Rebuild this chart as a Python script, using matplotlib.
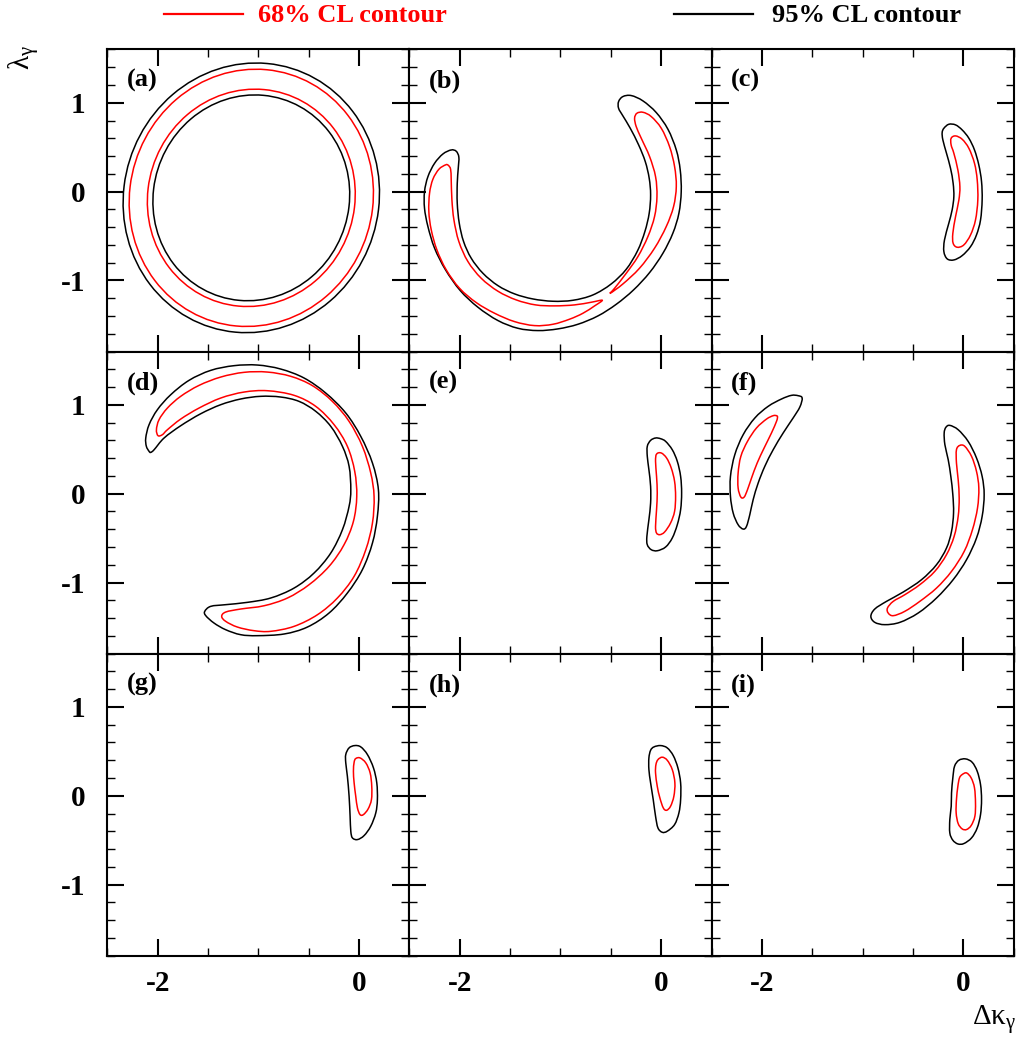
import matplotlib
matplotlib.use('Agg')
import matplotlib.pyplot as plt
import numpy as np
from matplotlib.patches import Ellipse, PathPatch
from matplotlib.path import Path
from matplotlib.lines import Line2D
from matplotlib.ticker import MultipleLocator

# ---- contour data (delta kappa_gamma, lambda_gamma) ----
# panel (a): full rings, drawn as ellipses (centre, width, height, tilt in deg)
a_center = (-1.07, -0.07)
a_tilt = -6.0
a_95_sizes = [(2.54, 3.04), (1.95, 2.32)]
a_68_sizes = [(2.42, 2.90), (2.06, 2.45)]

# panel (b)
b_95_x = [-2.085, -2.167, -2.250, -2.316, -2.350, -2.350, -2.316, -2.250, -2.141, -1.995,
          -1.820, -1.621, -1.423, -1.224, -1.025, -0.827, -0.628, -0.446, -0.274, -0.115,
          0.017, 0.116, 0.176, 0.199, 0.189, 0.150, 0.067, -0.049, -0.181, -0.297,
          -0.380, -0.423, -0.423, -0.380, -0.307, -0.224, -0.158, -0.119, -0.105, -0.119,
          -0.162, -0.234, -0.347, -0.496, -0.678, -0.877, -1.075, -1.274, -1.456, -1.621,
          -1.770, -1.886, -1.962, -2.005, -2.025, -2.025, -2.015, -2.009, -2.035]
b_95_y = [0.469, 0.424, 0.319, 0.169, 0.000, -0.187, -0.394, -0.637, -0.881, -1.114,
          -1.301, -1.451, -1.538, -1.564, -1.545, -1.493, -1.399, -1.268, -1.106, -0.911,
          -0.694, -0.468, -0.243, 0.000, 0.244, 0.469, 0.702, 0.890, 1.021, 1.081,
          1.070, 1.013, 0.938, 0.852, 0.713, 0.526, 0.338, 0.150, -0.037, -0.243,
          -0.450, -0.664, -0.874, -1.039, -1.163, -1.223, -1.234, -1.208, -1.151, -1.058,
          -0.919, -0.750, -0.562, -0.356, -0.131, 0.094, 0.263, 0.387, 0.454]
b_68a_x = [-2.141, -2.207, -2.267, -2.300, -2.307, -2.283, -2.227, -2.134, -2.002, -1.836,
           -1.654, -1.456, -1.257, -1.075, -0.910, -0.777, -0.661, -0.585, -0.694, -0.860,
           -1.059, -1.247, -1.439, -1.621, -1.787, -1.919, -2.009, -2.058, -2.078, -2.085,
           -2.091, -2.115]
b_68a_y = [0.301, 0.252, 0.139, -0.018, -0.225, -0.431, -0.656, -0.881, -1.088, -1.249,
           -1.369, -1.463, -1.508, -1.493, -1.436, -1.369, -1.286, -1.223, -1.245, -1.275,
           -1.286, -1.275, -1.219, -1.121, -0.975, -0.787, -0.562, -0.318, -0.093, 0.132,
           0.252, 0.297]
b_68b_x = [-0.506, -0.380, -0.215, -0.066, 0.050, 0.123, 0.150, 0.133, 0.083, 0.001,
           -0.099, -0.181, -0.241, -0.264, -0.248, -0.198, -0.115, -0.056, -0.042, -0.066,
           -0.132, -0.231, -0.347, -0.463]
b_68b_y = [-1.144, -1.039, -0.862, -0.637, -0.394, -0.168, 0.057, 0.282, 0.507, 0.713,
           0.845, 0.893, 0.882, 0.826, 0.732, 0.601, 0.394, 0.169, -0.056, -0.281,
           -0.506, -0.731, -0.919, -1.088]

# panel (c)
c_95_x = [-0.193, -0.144, -0.077, -0.011, 0.055, 0.111, 0.154, 0.181, 0.187, 0.171,
          0.131, 0.072, -0.011, -0.094, -0.160, -0.193, -0.187, -0.144, -0.111, -0.094,
          -0.101, -0.127, -0.167, -0.203, -0.210]
c_95_y = [0.713, 0.758, 0.751, 0.694, 0.601, 0.469, 0.300, 0.113, -0.094, -0.319,
          -0.487, -0.619, -0.720, -0.769, -0.757, -0.675, -0.544, -0.356, -0.206, -0.056,
          0.094, 0.263, 0.432, 0.582, 0.664]
c_68_x = [-0.121, -0.077, -0.011, 0.055, 0.111, 0.138, 0.144, 0.121, 0.072, 0.005,
          -0.061, -0.101, -0.104, -0.077, -0.044, -0.034, -0.054, -0.094, -0.121]
c_68_y = [0.601, 0.627, 0.589, 0.488, 0.319, 0.132, -0.094, -0.319, -0.487, -0.600,
          -0.626, -0.581, -0.469, -0.281, -0.094, 0.057, 0.244, 0.432, 0.526]

# panel (d)
d_95_x = [-2.085, -2.112, -2.118, -2.085, -2.002, -1.870, -1.688, -1.473, -1.241, -1.009,
          -0.778, -0.546, -0.331, -0.132, 0.017, 0.133, 0.192, 0.182, 0.133, 0.033,
          -0.116, -0.298, -0.513, -0.744, -1.009, -1.175, -1.324, -1.440, -1.522, -1.532,
          -1.473, -1.324, -1.109, -0.877, -0.645, -0.447, -0.281, -0.165, -0.099, -0.082,
          -0.099, -0.165, -0.281, -0.430, -0.596, -0.778, -0.976, -1.175, -1.373, -1.572,
          -1.771, -1.936, -2.035, -2.069]
d_95_y = [0.477, 0.533, 0.627, 0.777, 0.946, 1.114, 1.276, 1.388, 1.441, 1.448,
          1.403, 1.302, 1.133, 0.908, 0.645, 0.345, 0.045, -0.255, -0.555, -0.855,
          -1.118, -1.343, -1.501, -1.579, -1.598, -1.587, -1.531, -1.456, -1.373, -1.324,
          -1.268, -1.249, -1.223, -1.174, -1.062, -0.893, -0.668, -0.405, -0.142, 0.045,
          0.308, 0.533, 0.758, 0.927, 1.039, 1.088, 1.096, 1.066, 1.002, 0.900,
          0.765, 0.627, 0.495, 0.465]
d_68_x = [-2.012, -1.986, -1.903, -1.771, -1.589, -1.373, -1.142, -0.910, -0.678, -0.463,
          -0.265, -0.099, 0.033, 0.116, 0.149, 0.133, 0.067, -0.049, -0.215, -0.413,
          -0.645, -0.877, -1.042, -1.208, -1.324, -1.364, -1.324, -1.175, -0.943, -0.711,
          -0.496, -0.298, -0.149, -0.056, -0.023, -0.043, -0.116, -0.248, -0.430, -0.645,
          -0.910, -1.142, -1.373, -1.589, -1.771, -1.903, -1.953, -1.996]
d_68_y = [0.720, 0.833, 0.964, 1.096, 1.219, 1.313, 1.366, 1.369, 1.321, 1.216,
          1.039, 0.814, 0.533, 0.233, -0.030, -0.330, -0.630, -0.930, -1.174, -1.362,
          -1.493, -1.549, -1.542, -1.501, -1.437, -1.381, -1.332, -1.298, -1.261, -1.174,
          -1.024, -0.818, -0.574, -0.311, -0.030, 0.251, 0.533, 0.777, 0.983, 1.107,
          1.159, 1.144, 1.077, 0.964, 0.840, 0.720, 0.664, 0.653]

# panel (e)
e_95_x = [-0.056, -0.006, 0.044, 0.110, 0.160, 0.193, 0.203, 0.193, 0.160, 0.110,
          0.044, -0.039, -0.099, -0.138, -0.142, -0.122, -0.105, -0.105, -0.122, -0.138,
          -0.138, -0.105]
e_95_y = [0.627, 0.619, 0.589, 0.495, 0.364, 0.195, 0.008, -0.180, -0.349, -0.499,
          -0.600, -0.642, -0.630, -0.574, -0.480, -0.293, -0.105, 0.083, 0.270, 0.420,
          0.533, 0.600]
e_68_x = [-0.046, 0.001, 0.054, 0.100, 0.133, 0.143, 0.133, 0.093, 0.034, -0.013,
          -0.046, -0.056, -0.046, -0.039, -0.046, -0.056]
e_68_y = [0.446, 0.458, 0.401, 0.289, 0.139, -0.030, -0.199, -0.330, -0.431, -0.461,
          -0.443, -0.368, -0.180, 0.008, 0.195, 0.364]

# panel (f): two separate islands
f_95a_x = [-1.600, -1.640, -1.706, -1.805, -1.938, -2.070, -2.186, -2.269, -2.312, -2.312,
           -2.285, -2.236, -2.186, -2.153, -2.120, -2.087, -2.037, -1.971, -1.888, -1.789,
           -1.690, -1.623]
f_95a_y = [1.077, 1.103, 1.107, 1.066, 0.983, 0.852, 0.664, 0.439, 0.195, -0.030,
           -0.218, -0.349, -0.398, -0.368, -0.236, -0.068, 0.120, 0.308, 0.495, 0.683,
           0.852, 0.976]
f_68a_x = [-1.855, -1.888, -1.954, -2.054, -2.143, -2.209, -2.236, -2.236, -2.209, -2.176,
           -2.143, -2.103, -2.047, -1.978, -1.905, -1.855, -1.845]
f_68a_y = [0.878, 0.878, 0.840, 0.739, 0.589, 0.420, 0.233, 0.064, -0.038, -0.038,
           0.045, 0.176, 0.345, 0.514, 0.683, 0.814, 0.863]
f_95b_x = [-0.134, -0.051, 0.048, 0.131, 0.187, 0.207, 0.187, 0.131, 0.032, -0.101,
           -0.266, -0.448, -0.630, -0.779, -0.879, -0.918, -0.879, -0.763, -0.597, -0.415,
           -0.266, -0.167, -0.117, -0.097, -0.104, -0.124, -0.150, -0.183, -0.190, -0.173]
f_95b_y = [0.769, 0.720, 0.589, 0.402, 0.195, -0.011, -0.255, -0.499, -0.743, -0.968,
           -1.174, -1.343, -1.448, -1.474, -1.448, -1.381, -1.298, -1.212, -1.107, -0.968,
           -0.799, -0.612, -0.424, -0.218, -0.011, 0.195, 0.383, 0.552, 0.683, 0.747]
f_68b_x = [-0.034, 0.015, 0.082, 0.131, 0.154, 0.141, 0.091, 0.009, -0.117, -0.266,
           -0.432, -0.581, -0.696, -0.746, -0.753, -0.696, -0.581, -0.432, -0.283, -0.167,
           -0.091, -0.051, -0.041, -0.051, -0.068, -0.068]
f_68b_y = [0.544, 0.533, 0.420, 0.251, 0.064, -0.161, -0.405, -0.649, -0.874, -1.062,
           -1.212, -1.324, -1.373, -1.343, -1.287, -1.212, -1.137, -1.024, -0.874, -0.686,
           -0.480, -0.255, -0.049, 0.158, 0.345, 0.495]

# panel (g)
g_95_x = [-0.043, 0.017, 0.083, 0.143, 0.176, 0.182, 0.166, 0.116, 0.050, -0.016,
          -0.066, -0.082, -0.089, -0.099, -0.116, -0.132, -0.132, -0.099]
g_95_y = [0.565, 0.550, 0.464, 0.314, 0.145, -0.043, -0.193, -0.343, -0.448, -0.493,
          -0.474, -0.399, -0.230, -0.005, 0.220, 0.370, 0.464, 0.539]
g_68_x = [-0.033, 0.010, 0.067, 0.110, 0.126, 0.123, 0.090, 0.043, 0.010, -0.016,
          -0.033, -0.049, -0.056, -0.049]
g_68_y = [0.419, 0.426, 0.370, 0.257, 0.107, -0.043, -0.148, -0.212, -0.212, -0.137,
          -0.005, 0.145, 0.276, 0.377]

# panel (h)
h_95_x = [-0.072, -0.006, 0.060, 0.120, 0.166, 0.193, 0.193, 0.176, 0.133, 0.060,
          0.011, -0.032, -0.056, -0.079, -0.105, -0.122, -0.122, -0.105]
h_95_y = [0.550, 0.565, 0.539, 0.452, 0.314, 0.145, -0.043, -0.193, -0.324, -0.399,
          -0.411, -0.362, -0.230, -0.043, 0.145, 0.295, 0.426, 0.512]
h_68_x = [-0.032, 0.011, 0.060, 0.110, 0.136, 0.126, 0.093, 0.054, 0.021, -0.013,
          -0.039, -0.056, -0.052]
h_68_y = [0.407, 0.434, 0.400, 0.295, 0.145, -0.005, -0.118, -0.163, -0.137, -0.024,
          0.107, 0.257, 0.351]

# panel (i)
i_95_x = [-0.044, 0.022, 0.088, 0.138, 0.171, 0.181, 0.171, 0.138, 0.082, 0.005,
          -0.054, -0.104, -0.134, -0.134, -0.120, -0.117, -0.104, -0.087]
i_95_y = [0.400, 0.415, 0.377, 0.276, 0.126, -0.043, -0.212, -0.362, -0.474, -0.538,
          -0.542, -0.500, -0.418, -0.268, -0.118, 0.032, 0.201, 0.332]
i_68_x = [-0.011, 0.032, 0.078, 0.111, 0.121, 0.115, 0.078, 0.032, -0.011, -0.051,
          -0.071, -0.068, -0.054, -0.038]
i_68_y = [0.239, 0.257, 0.201, 0.089, -0.080, -0.230, -0.335, -0.380, -0.373, -0.313,
          -0.193, -0.043, 0.107, 0.201]

panel_labels = ['(a)', '(b)', '(c)', '(d)', '(e)', '(f)', '(g)', '(h)', '(i)']
RED = '#ff0000'
BLACK = '#000000'

contours = {
    '(b)': [(b_95_x, b_95_y, BLACK), (b_68a_x, b_68a_y, RED), (b_68b_x, b_68b_y, RED)],
    '(c)': [(c_95_x, c_95_y, BLACK), (c_68_x, c_68_y, RED)],
    '(d)': [(d_95_x, d_95_y, BLACK), (d_68_x, d_68_y, RED)],
    '(e)': [(e_95_x, e_95_y, BLACK), (e_68_x, e_68_y, RED)],
    '(f)': [(f_95a_x, f_95a_y, BLACK), (f_68a_x, f_68a_y, RED),
            (f_95b_x, f_95b_y, BLACK), (f_68b_x, f_68b_y, RED)],
    '(g)': [(g_95_x, g_95_y, BLACK), (g_68_x, g_68_y, RED)],
    '(h)': [(h_95_x, h_95_y, BLACK), (h_68_x, h_68_y, RED)],
    '(i)': [(i_95_x, i_95_y, BLACK), (i_68_x, i_68_y, RED)],
}


def closed_curve(xs, ys):
    # smooth closed path through the given vertices (Catmull-Rom as cubic Beziers)
    p = np.column_stack([xs, ys])
    n = len(p)
    verts = [p[0]]
    codes = [Path.MOVETO]
    for i in range(n):
        p0, p1, p2, p3 = p[i - 1], p[i], p[(i + 1) % n], p[(i + 2) % n]
        verts += [p1 + (p2 - p0) / 6.0, p2 - (p3 - p1) / 6.0, p2]
        codes += [Path.CURVE4] * 3
    return Path(verts, codes)


plt.rcParams['font.family'] = ['Liberation Serif', 'DejaVu Serif']
plt.rcParams['mathtext.fontset'] = 'stix'
plt.rcParams['mathtext.default'] = 'regular'
plt.rcParams['axes.unicode_minus'] = False

fig = plt.figure(figsize=(10.16, 10.37), dpi=100)
gs = fig.add_gridspec(3, 3, left=0.1056, right=0.9977, bottom=0.0784, top=0.9523,
                      wspace=0, hspace=0)

LW = 1.1
for k, lab in enumerate(panel_labels):
    row, col = divmod(k, 3)
    ax = fig.add_subplot(gs[row, col])

    if lab == '(a)':
        for w, h in a_95_sizes:
            ax.add_patch(Ellipse(a_center, w, h, angle=a_tilt, fill=False,
                                 edgecolor=BLACK, lw=LW))
        for w, h in a_68_sizes:
            ax.add_patch(Ellipse(a_center, w, h, angle=a_tilt, fill=False,
                                 edgecolor=RED, lw=LW))
    else:
        for xs, ys, c in contours[lab]:
            ax.add_patch(PathPatch(closed_curve(xs, ys), fill=False, edgecolor=c, lw=LW))

    ax.set_xlim(-2.5, 0.5)
    ax.set_ylim(-1.8, 1.6)
    ax.xaxis.set_major_locator(MultipleLocator(2))
    ax.xaxis.set_minor_locator(MultipleLocator(0.5))
    ax.yaxis.set_major_locator(MultipleLocator(1))
    ax.yaxis.set_minor_locator(MultipleLocator(0.2))
    ax.tick_params(which='both', direction='in', top=True, right=True,
                   labelleft=(col == 0), labelbottom=(row == 2))
    ax.tick_params(which='major', length=12.5, width=1.5, labelsize=21)
    ax.tick_params(axis='x', which='major', pad=10)
    ax.tick_params(axis='y', which='major', pad=16)
    ax.tick_params(which='minor', length=6, width=1.0)
    for t in ax.get_xticklabels() + ax.get_yticklabels():
        t.set_fontweight('bold')
    for s in ax.spines.values():
        s.set_linewidth(1.5)

    ax.text(0.065, 0.935, lab, transform=ax.transAxes, ha='left', va='top',
            fontsize=19, fontweight='bold')

# axis titles
fig.text(25 / 1016, 1 - 45 / 1037, r'$\lambda_{\gamma}$', rotation=90,
         ha='center', va='top', fontsize=21)
fig.text(1.0, 1 - 1020 / 1037, r'$\Delta\kappa_{\gamma}$', ha='right', va='center',
         fontsize=21)

# legend along the top
fig.add_artist(Line2D([164 / 1016, 243 / 1016], [1 - 14 / 1037] * 2, color=RED, lw=1.6))
fig.text(258 / 1016, 1 - 15.5 / 1037, '68% CL contour', color=RED, ha='left',
         va='center', fontsize=19, fontweight='bold')
fig.add_artist(Line2D([674 / 1016, 753 / 1016], [1 - 14 / 1037] * 2, color=BLACK, lw=1.6))
fig.text(772 / 1016, 1 - 15.5 / 1037, '95% CL contour', color=BLACK, ha='left',
         va='center', fontsize=19, fontweight='bold')

fig.savefig('out.png', dpi=100)
